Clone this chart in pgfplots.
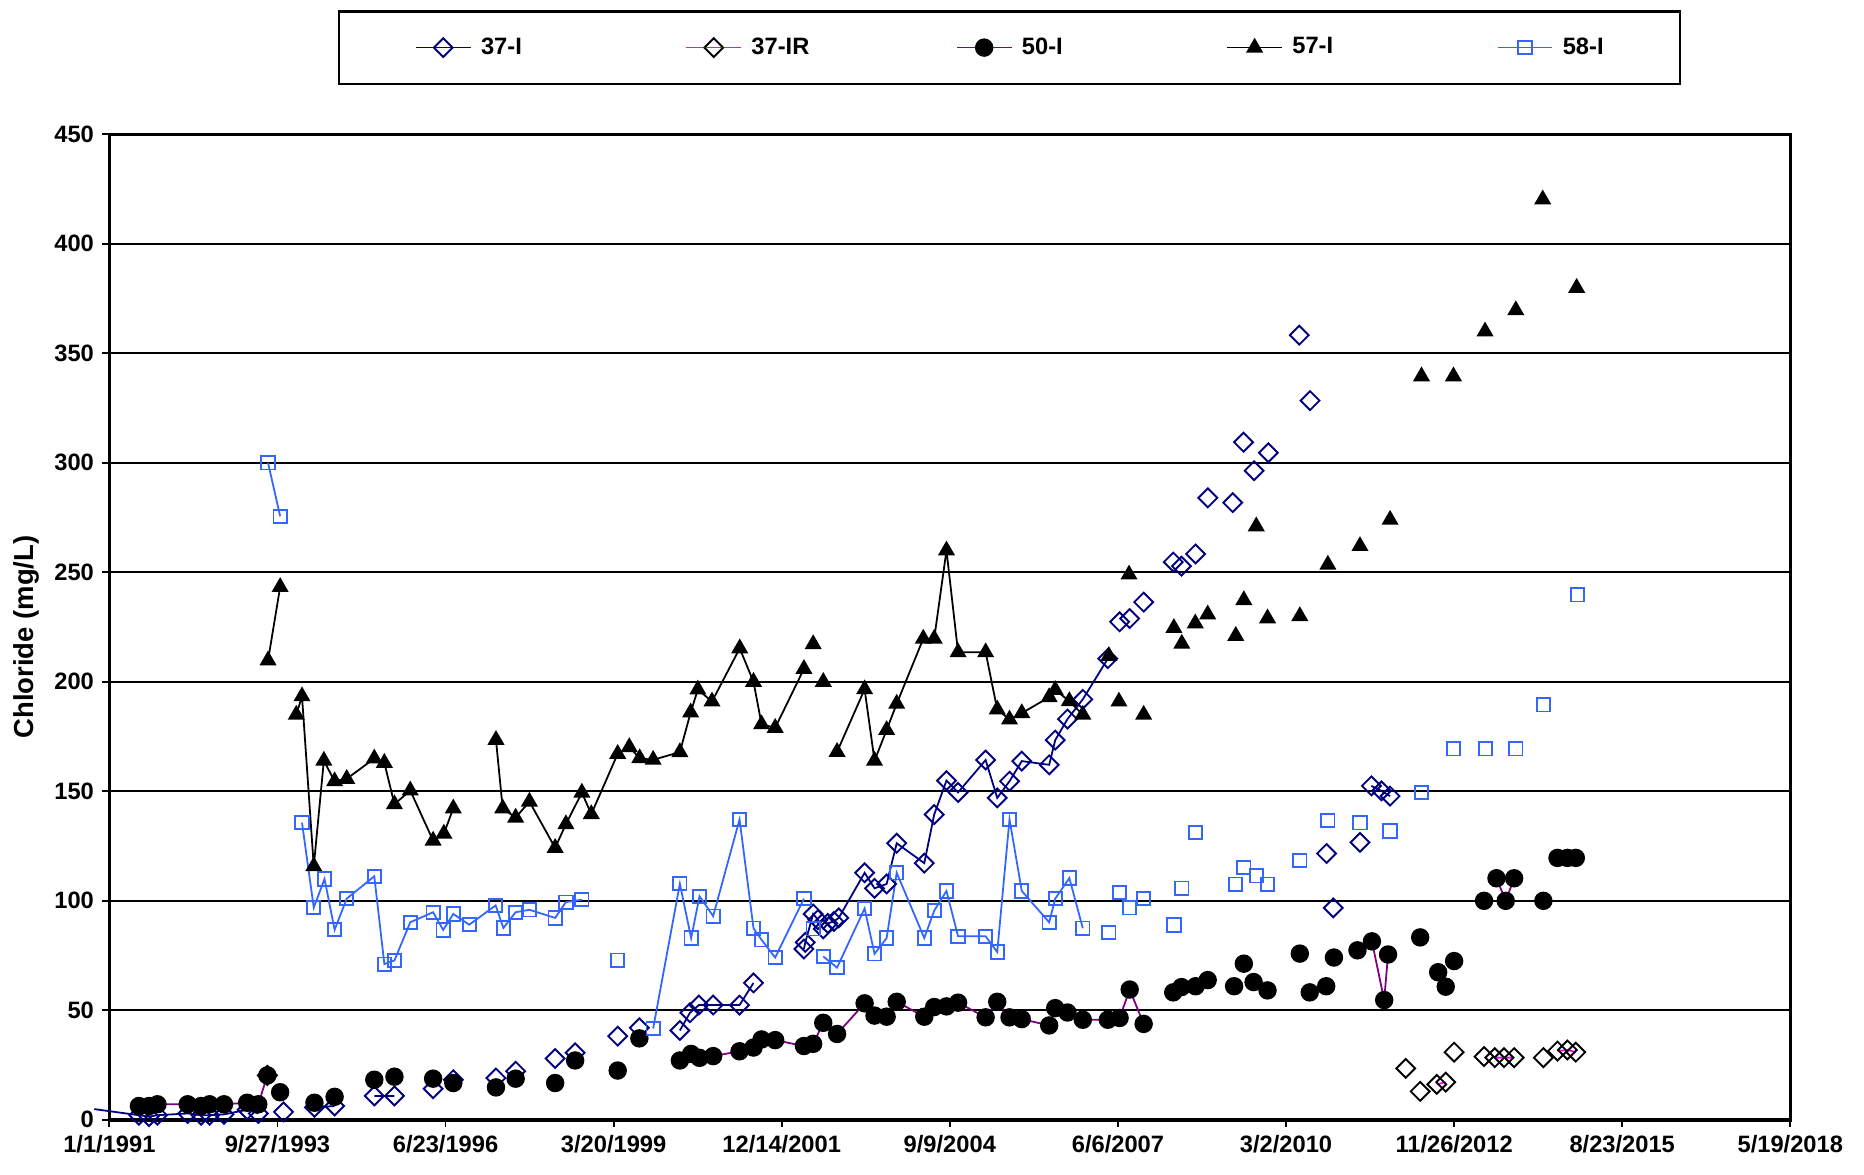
\documentclass[border=0pt]{standalone}
\usepackage{pgfplots}
\pgfplotsset{compat=1.18}
\usepackage{fontspec}
\setmainfont{Liberation Sans}
\definecolor{navyA}{RGB}{0,0,128}
\definecolor{magB}{RGB}{255,0,255}
\definecolor{purC}{RGB}{128,0,128}
\definecolor{blueE}{RGB}{51,102,255}
\begin{document}
\begin{tikzpicture}
\begin{axis}[
    name=a,
    scale only axis,
    width=707bp, height=414.5bp,
    xmin=0, xmax=10000, ymin=0, ymax=450,
    xtick={0,1000,...,10000},
    scaled x ticks=false,
    xticklabels={1/1/1991,9/27/1993,6/23/1996,3/20/1999,12/14/2001,9/9/2004,6/6/2007,3/2/2010,11/26/2012,8/23/2015,5/19/2018},
    ytick={0,50,...,450},
    tick pos=left, tick align=outside,
    major tick length=3bp,
    tick style={black, line width=0.75bp},
    ymajorgrids, grid style={black, line width=0.75bp},
    axis line style={line width=1.5bp},
    ticklabel style={font=\bfseries\fontsize{10}{12}\selectfont},
    /pgf/number format/assume math mode=true,
    ylabel={Chloride (mg/L)},
    ylabel style={font=\bfseries\fontsize{11.6}{13}\selectfont, at={(axis description cs:-0.0495,0.49)}, anchor=center},
    clip=false,
    unbounded coords=jump,
    legend columns=5,
    legend style={at={(0.5354,1.088)}, anchor=center, draw=black, line width=1bp,
        inner xsep=32bp, inner ysep=11bp,
        font=\bfseries\fontsize{10}{12}\selectfont,
        nodes={inner sep=0pt}, column sep=4bp},
    legend image code/.code={\draw[mark repeat=2,mark phase=2,#1] plot coordinates {(0bp,0bp) (11.5bp,0bp) (23bp,0bp)};},
]

% 37-I
\addplot[navyA, line width=0.75bp, mark=square, mark size=2.8bp, mark options={rotate=45, solid, line width=0.8bp}] coordinates {
    (176,2.1) (236,1.5) (286,2.1) (466,2.9) (546,2.1) (596,2.1) (682,2.5) (820,4.6) (886,2.9) (900,nan)
    (1036,3.6) (1100,nan)
    (1220,5.7) (1340,6.3) (1400,nan)
    (1576,10.9) (1696,10.9) (1800,nan)
    (1926,14.2) (2000,nan) (2046,18.3) (2100,nan) (2300,19.1) (2350,nan) (2417,22.2) (2500,nan)
    (2652,28) (2700,nan) (2771,30.6) (2900,nan) (3024,38.2) (3100,nan) (3153,42) (3200,nan)
    (3394,40.8) (3454,48.9) (3507,52.4) (3592,52.4) (3749,52.4) (3832,62.5) (3900,nan)
    (4132,78) (4140,81) (4187,94) (4215,91.4) (4247,87.2) (4274,89.7) (4310,90.6) (4339,92.2)
    (4493,112.8) (4552,105.7) (4624,107.7) (4684,126.3) (4848,117.2) (4907,139.4) (4980,154.9)
    (5049,149.5) (5213,164.3) (5282,147) (5355,154.6) (5428,163.8) (5591,162.1) (5627,173.4)
    (5700,183) (5791,192) (5940,210.6) (5950,nan)
    (6010,227.4) (6020,nan) (6070,228.9) (6080,nan) (6153,236.4) (6160,nan) (6329,254.7) (6340,nan)
    (6378,252.8) (6390,nan) (6462,258.4) (6470,nan) (6535,284) (6540,nan) (6683,281.8) (6690,nan)
    (6747,309.4) (6750,nan) (6810,296.4) (6820,nan) (6895,304.6) (6900,nan) (7079,358.3) (7090,nan)
    (7143,328.4) (7150,nan) (7241,121.6) (7250,nan) (7281,96.8) (7290,nan) (7440,126.7) (7450,nan)
    (7508,152.5) (7568,150.2) (7619,147.8)
};
\addlegendentry{\makebox[82bp][l]{37-I}}

% 37-IR
\addplot[magB, line width=0.75bp, mark=square, mark size=2.8bp, mark options={rotate=45, solid, draw=black, line width=0.8bp}] coordinates {
    (940,20.3) (950,nan)
    (7712,23.5) (7720,nan) (7798,13) (7800,nan) (7897,16.2) (7950,17.2) (7960,nan)
    (8000,30.9) (8010,nan) (8178,28.9) (8190,nan) (8242,28.4) (8297,28.4) (8357,28.4) (8360,nan)
    (8531,28.4) (8540,nan) (8615,31.4) (8674,31.9) (8724,30.9)
};
\addlegendentry{\makebox[82bp][l]{37-IR}}

% 50-I
\addplot[purC, line width=0.75bp, mark=*, mark size=3.5bp, mark options={solid, fill=black, draw=black}] coordinates {
    (176,6.3) (236,6.3) (286,7.1) (466,7.1) (546,6.3) (596,7.1) (682,7.1) (820,7.8) (886,7.1) (940,20.3) (950,nan)
    (1016,12.6) (1100,nan) (1220,7.8) (1300,nan) (1340,10.5) (1400,nan) (1576,18.3) (1600,nan)
    (1696,19.7) (1800,nan) (1926,18.8) (2000,nan) (2046,16.8) (2100,nan) (2300,14.8) (2350,nan)
    (2417,18.8) (2500,nan) (2652,16.8) (2700,nan) (2771,27.1) (2900,nan) (3024,22.5) (3100,nan)
    (3153,37.2) (3200,nan)
    (3394,27.1) (3461,30.1) (3511,28.3) (3592,29.1) (3749,31.3) (3832,33) (3880,36.7) (3961,36.4)
    (4132,33.7) (4187,34.7) (4247,44.3) (4329,39.2) (4493,53.2) (4552,47.6) (4624,47.1) (4684,53.9)
    (4848,47.1) (4907,51.5) (4980,51.8) (5049,53.5) (5213,46.8) (5282,53.9) (5355,46.8) (5428,46)
    (5591,43.1) (5627,51) (5700,49) (5791,45.7) (5940,45.7) (6010,46.5) (6070,59.5) (6153,43.8) (6160,nan)
    (6329,58.2) (6340,nan) (6378,60.6) (6390,nan) (6462,61) (6470,nan) (6534,63.8) (6540,nan)
    (6691,61) (6700,nan) (6749,71.3) (6760,nan) (6807,62.9) (6810,nan) (6890,59.1) (6900,nan)
    (7082,75.9) (7090,nan) (7141,58.2) (7150,nan) (7239,61) (7250,nan) (7285,74.1) (7290,nan)
    (7425,77.4) (7511,81.5) (7584,54.7) (7607,75.5) (7610,nan)
    (7798,83.3) (7800,nan) (7905,67.4) (7910,nan) (7950,60.8) (7960,nan) (8000,72.5) (8010,nan)
    (8178,100) (8190,nan) (8252,110.3) (8307,100) (8357,110.3) (8360,nan)
    (8531,100) (8540,nan) (8615,119.6) (8620,nan) (8674,119.6) (8680,nan) (8724,119.6)
};
\addlegendentry{\makebox[82bp][l]{50-I}}

% 57-I
\addplot[black, line width=0.75bp, mark=triangle*, mark size=3.4bp, mark options={solid}] coordinates {
    (944,209.8) (1016,243.3) (1050,nan)
    (1112,185) (1146,193.4) (1216,115.8) (1276,164) (1340,154.6) (1412,155.7) (1576,165) (1636,163)
    (1696,144.1) (1790,150.4) (1926,127.5) (1990,130.7) (2046,142.2) (2100,nan)
    (2300,173.5) (2340,142.2) (2417,138) (2499,145.3) (2652,124.2) (2716,135) (2811,149.4) (2867,139.6)
    (3024,167.1) (3093,170.2) (3155,165.1) (3235,164.4) (3394,167.9) (3458,186) (3501,196.5) (3585,191)
    (3750,215.3) (3832,200) (3880,180.6) (3961,179) (4132,205.9) (4150,nan)
    (4187,217.2) (4200,nan) (4247,200) (4260,nan)
    (4329,168) (4493,196.6) (4552,164) (4624,178) (4684,190) (4842,219.7) (4907,219.7) (4980,260)
    (5049,213.5) (5213,213.5) (5282,187.4) (5355,182.8) (5428,185.7) (5591,193) (5627,196.3)
    (5711,191.2) (5791,185) (5800,nan)
    (5946,211.8) (5950,nan) (6006,191) (6010,nan) (6066,249) (6070,nan) (6153,185) (6160,nan)
    (6333,224.6) (6340,nan) (6380,217.4) (6390,nan) (6460,226.7) (6470,nan) (6534,230.8) (6540,nan)
    (6701,221) (6710,nan) (6749,237.3) (6760,nan) (6823,271) (6830,nan) (6890,229) (6900,nan)
    (7082,230) (7090,nan) (7249,253.5) (7260,nan) (7440,262) (7450,nan) (7619,274) (7630,nan)
    (7806,339.5) (7810,nan) (7996,339.5) (8000,nan) (8184,360) (8190,nan) (8367,369.7) (8370,nan)
    (8527,420.3) (8530,nan) (8729,379.9)
};
\addlegendentry{\makebox[82bp][l]{57-I}}

% 58-I
\addplot[blueE, line width=0.75bp, mark=square, mark size=2.8bp, mark options={solid, line width=0.8bp}] coordinates {
    (944,300) (1016,275.6) (1050,nan)
    (1146,135.7) (1216,96.9) (1280,110) (1340,86.8) (1412,101) (1576,111.2) (1636,71.1) (1696,72.8)
    (1790,90.2) (1926,94.8) (1986,86.7) (2046,94) (2141,89.1) (2298,97.9) (2344,87.6) (2417,94.8)
    (2499,95.9) (2652,92.2) (2716,99.4) (2811,100.5) (2900,nan)
    (3024,72.9) (3100,nan)
    (3235,41.7) (3394,107.8) (3461,83) (3511,102.1) (3592,93) (3749,137.2) (3832,87.5) (3880,82.2)
    (3961,74.1) (4132,101) (4150,nan)
    (4187,87.2) (4200,nan)
    (4247,74.6) (4329,69.5) (4493,96.5) (4552,75.8) (4624,83) (4684,112.8) (4848,83) (4907,95.5)
    (4980,104.5) (5049,83.8) (5213,83.8) (5282,76.6) (5355,137.2) (5428,104.5) (5591,90.2) (5627,101)
    (5711,110.4) (5791,87.5) (5800,nan)
    (5946,85.6) (5950,nan) (6010,103.9) (6020,nan) (6070,96.8) (6080,nan) (6153,101.1) (6160,nan)
    (6333,89) (6340,nan) (6380,105.8) (6390,nan) (6462,131.3) (6470,nan) (6701,107.6) (6710,nan)
    (6749,115.1) (6760,nan) (6823,111.4) (6830,nan) (6890,107.6) (6900,nan) (7082,118.5) (7090,nan)
    (7249,136.6) (7260,nan) (7440,135.6) (7450,nan) (7619,131.9) (7630,nan) (7806,149.5) (7810,nan)
    (7996,169.4) (8000,nan) (8188,169.4) (8190,nan) (8367,169.4) (8370,nan) (8531,189.5) (8540,nan)
    (8734,239.7)
};
\addlegendentry{58-I}

% 37-I line running in from the left edge
\addplot[navyA, line width=0.75bp, forget plot] coordinates {(-90,4.9) (176,2.1)};

\end{axis}
\pgfresetboundingbox
\path (a.south west) ++(-46bp,-23bp) rectangle ++(784bp,494bp);
\end{tikzpicture}
\end{document}
